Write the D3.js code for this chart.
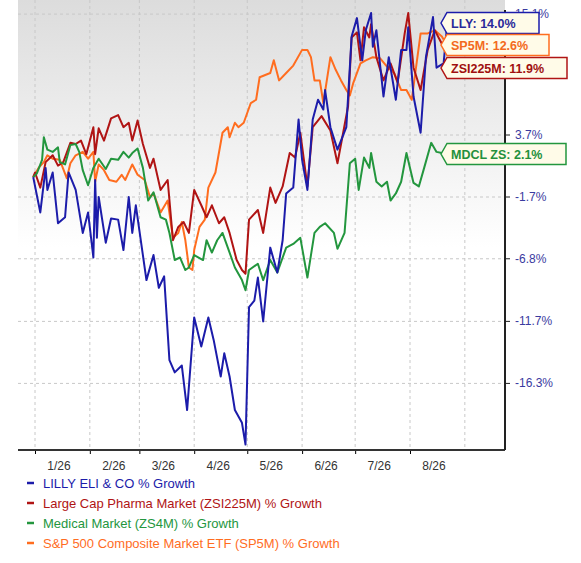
<!DOCTYPE html>
<html><head><meta charset="utf-8">
<script src="https://cdn.jsdelivr.net/npm/d3@7/dist/d3.min.js"></script>
<style>body{margin:0;background:#fff;font-family:Arial,"Liberation Sans",sans-serif}</style>
</head><body><svg id="c" width="581" height="563"></svg>
<script>
const yTicks=[15.1,3.7,-1.7,-6.8,-11.7,-16.3];
const months=["1/26","2/26","3/26","4/26","5/26","6/26","7/26","8/26"];
const llyDays=[-1,3,6,7,10,13,17,19,23,27,30,33,34,35,36,40,43,47,50,53,55,57,63,67,70,73,76,79,83,86,90,94,98,101,105,107,110,113,117,119,121,124,126,129,133,137,140,142,146,149,151,154,157,160,163,164,167,171,176,179,182,185,187,190,191,193,197,200,204,207,210,211,214,218,221,225,227,231,233];
const llyVals=[0,-3.0,0.8,-1.1,0.4,-3.9,-3.4,0.4,-1.1,-4.7,-3.0,-6.7,-0.25,-5.1,-1.7,-5.5,-3.5,-3.6,-6.1,-1.7,-4.7,-2.4,-8.5,-6.5,-9.1,-8.2,-14.6,-15.5,-15.0,-18.2,-11.4,-13.6,-11.4,-13.1,-15.8,-14.1,-15.8,-18.2,-19.1,-20.6,-10.6,-10.1,-8.3,-11.7,-5.9,-7.9,-5.3,-1.4,-0.9,5.1,1.5,-1.1,5.1,6.9,6.0,7.8,4.4,2.4,4.4,12.9,14.7,10.6,13.5,15.2,11.9,13.5,7.2,10.9,6.9,11.6,11.6,13.8,7.2,3.9,10.9,14.8,9.9,10.3,14.0];
const redDays=[-1,0,3,6,10,13,16,20,23,26,29,33,34,36,39,43,47,50,53,55,58,61,65,67,71,75,78,81,84,87,90,94,97,100,104,107,110,114,117,119,121,126,129,133,136,140,144,147,150,154,157,162,167,171,177,179,182,184,186,189,190,193,197,201,205,209,211,214,218,222,226,230,231];
const redVals=[0,0.4,-0.9,1.3,1.9,1.0,1.3,3.0,2.9,3.2,2.0,4.4,2.0,4.3,3.2,5.2,5.5,4.4,4.8,3.2,5.0,2.9,0.8,1.6,-1.1,-0.25,-5.3,-4.2,-3.8,-4.7,-1.1,-2.4,-3.4,-2.4,-3.9,-3.4,-4.7,-6.9,-7.7,-8.0,-3.6,-2.8,-4.7,-0.9,-2.2,-0.8,2.1,1.7,3.9,-0.8,4.4,5.4,4.1,1.2,6.3,12.8,13.3,10.6,13.8,12.8,14.1,10.9,8.7,10.3,8.5,13.2,15.2,9.9,7.8,11.6,13.5,12.2,11.9];
const grnDays=[-1,1,4,5,7,10,13,14,17,20,23,25,27,30,33,36,40,43,47,50,53,55,58,61,64,67,71,74,76,79,82,85,87,90,95,97,100,103,106,109,113,117,119,121,126,129,133,137,142,146,150,154,158,161,164,169,171,175,178,181,183,186,189,190,193,196,199,201,204,207,210,214,217,220,224,227,230];
const grnVals=[0,0.3,1.5,3.5,2.4,2.2,2.6,1.3,1.1,2.8,2.9,2.2,0.6,-0.7,0.8,1.6,0.7,1.6,1.5,2.2,1.7,2.1,2.5,0.8,-2.0,-1.3,-3.4,-3.6,-4.7,-6.9,-6.7,-7.7,-7.5,-6.5,-6.9,-5.3,-6.3,-5.3,-4.7,-5.9,-7.5,-8.5,-9.3,-7.7,-7.2,-8.5,-6.9,-7.9,-5.9,-5.6,-5.1,-8.3,-4.7,-4.2,-3.9,-4.7,-6.0,-4.7,1.2,1.6,-1.1,1.7,0.8,2.1,-0.4,-0.8,-0.4,-2.0,-1.4,-0.4,2.1,-0.5,-0.8,0.8,3.0,2.2,2.1];
const spDays=[-1,2,5,7,10,14,18,20,23,27,30,33,34,36,39,42,46,49,51,55,58,62,65,67,71,75,78,81,83,85,87,89,90,93,96,98,102,106,109,110,113,115,118,122,125,127,133,135,138,142,146,151,154,156,158,161,163,167,170,173,176,178,180,184,187,191,195,199,203,207,210,213,215,218,222,226,230,231];
const spVals=[0,0.8,1.3,1.9,1.6,1.5,-0.1,1.2,1.9,2.2,1.6,2.2,-0.4,1.1,0.6,-0.25,-0.4,0.2,-0.25,1.1,0.2,-0.25,-1.7,-1.4,-3.0,-2.0,-5.1,-4.7,-3.8,-5.3,-7.5,-7.7,-6.1,-4.2,-3.6,-0.9,0.4,3.9,4.4,3.5,4.8,4.4,4.8,6.6,6.9,9.0,9.4,10.6,8.7,9.4,10.1,11.6,11.6,10.9,8.7,8.7,6.6,10.9,9.7,8.7,7.8,7.3,8.5,10.3,10.6,10.9,10.8,10.0,9.4,7.8,7.8,6.9,9.4,13.2,13.2,13.5,12.9,12.6];
const series=[
 {name:"LLY ELI",legend:"LILLY ELI & CO % Growth",days:llyDays,vals:llyVals,color:"#1c1caa",label:"LLY: 14.0%",tc:"#2a2a9a",ly:23,lw:98},
 {name:"ZSI",legend:"Large Cap Pharma Market (ZSI225M) % Growth",days:redDays,vals:redVals,color:"#b01414",label:"ZSI225M: 11.9%",tc:"#a01010",ly:68,lw:126},
 {name:"ZS4M",legend:"Medical Market (ZS4M) % Growth",days:grnDays,vals:grnVals,color:"#23963e",label:"MDCL ZS: 2.1%",tc:"#23903c",ly:154,lw:125},
 {name:"SP5M",legend:"S&P 500 Composite Market ETF (SP5M) % Growth",days:spDays,vals:spVals,color:"#ff6d1f",label:"SP5M: 12.6%",tc:"#f36a20",ly:45,lw:108}
];
const svg=d3.select("#c");
const L=18,R=505,T=10,B=450;
const defs=svg.append("defs");
const g=defs.append("linearGradient").attr("id","bg").attr("x1",0).attr("y1",0).attr("x2",0).attr("y2",1);
g.append("stop").attr("offset","0").attr("stop-color","#dcdcdc");
g.append("stop").attr("offset","0.55").attr("stop-color","#ffffff");
svg.append("rect").attr("x",L).attr("y",0).attr("width",R-L).attr("height",B).attr("fill","url(#bg)");
const base=new Date(2026,0,1);
const dd=d=>d3.timeDay.offset(base,d);
const x=d3.scaleTime().domain([new Date(2026,0,1),new Date(2026,7,1)]).range([35,410]);
const ly=v=>Math.log(1+v/100);
const yl=d3.scaleLinear().domain([ly(3.7),ly(-1.7)]).range([135,197]);
const y=v=>yl(ly(v));
const mTicks=d3.range(0,8).map(m=>new Date(2026,m,1));
const grid=svg.append("g").attr("stroke","#c8c8c8").attr("stroke-dasharray","3,3");
mTicks.forEach(t=>grid.append("line").attr("x1",x(t)).attr("x2",x(t)).attr("y1",0).attr("y2",B));
grid.append("line").attr("x1",x(new Date(2026,8,1))).attr("x2",x(new Date(2026,8,1))).attr("y1",0).attr("y2",B);
yTicks.forEach(v=>grid.append("line").attr("x1",L).attr("x2",R).attr("y1",y(v)).attr("y2",y(v)));
const line=d3.line().x(d=>x(dd(d[0]))).y(d=>y(d[1]));
[3,1,2,0].forEach(i=>{const s=series[i];
 svg.append("path").datum(s.days.map((d,j)=>[d,s.vals[j]])).attr("d",line).attr("fill","none").attr("stroke",s.color).attr("stroke-width",2).attr("stroke-linejoin","round");});
// axes
const xa=svg.append("g").attr("transform",`translate(0,${B})`).call(d3.axisBottom(x).tickValues(mTicks).tickSize(4).tickFormat(""));
xa.select(".domain").remove();
svg.append("line").attr("x1",L).attr("x2",R).attr("y1",B).attr("y2",B).attr("stroke","#333").attr("stroke-width",2);
mTicks.forEach((t,i)=>svg.append("text").attr("x",x(t)+24).attr("y",B+20).attr("text-anchor","middle").attr("font-size",12).attr("fill","#333").text(months[i]));
svg.append("line").attr("x1",R).attr("x2",R).attr("y1",T).attr("y2",B).attr("stroke","#222").attr("stroke-width",2);
yTicks.forEach(v=>{svg.append("line").attr("x1",R).attr("x2",R+5).attr("y1",y(v)).attr("y2",y(v)).attr("stroke","#222");
 svg.append("text").attr("x",R+10).attr("y",y(v)+4).attr("font-size",12).attr("fill","#3a3aa0").text(v.toFixed(1)+"%");});
// flags
series.forEach(s=>{const x0=441,h=21,yc=s.ly,w=s.lw;
 const p=`M${x0},${yc} L${x0+6},${yc-h/2} L${x0+w},${yc-h/2} L${x0+w},${yc+h/2} L${x0+6},${yc+h/2} Z`;
 svg.append("path").attr("d",p).attr("fill","#fffbe8").attr("stroke",s.color).attr("stroke-width",1.5);
 svg.append("text").attr("x",x0+10).attr("y",yc+4.5).attr("font-size",12.5).attr("font-weight","bold").attr("fill",s.tc).text(s.label);});
// legend
series.forEach((s,i)=>{const yy=483+i*20;
 svg.append("line").attr("x1",27).attr("x2",34).attr("y1",yy).attr("y2",yy).attr("stroke",s.color).attr("stroke-width",2.5);
 svg.append("text").attr("x",43).attr("y",yy+5).attr("font-size",13).attr("fill",s.color).text(s.legend);});
</script></body></html>
